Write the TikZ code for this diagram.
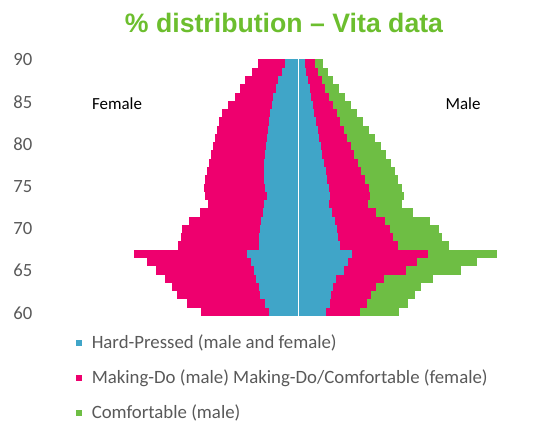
\documentclass[tikz,border=0pt]{standalone}
\usepackage{fontspec}
\setmainfont{Carlito}
\newfontfamily\titlefont{Liberation Sans}
\usetikzlibrary{calc}
\definecolor{hpblue}{RGB}{64,165,200}
\definecolor{mdpink}{RGB}{238,0,110}
\definecolor{cfgreen}{RGB}{110,190,68}
\definecolor{titlegreen}{RGB}{108,190,46}
\definecolor{axisgray}{RGB}{89,89,89}

\begin{document}
\begin{tikzpicture}[x=0.75pt,y=-0.75pt,
	tick/.style={anchor=east,text=axisgray,inner sep=0pt,font=\fontsize{14}{16}\selectfont},
	legtext/.style={anchor=base west,text=axisgray,inner sep=0pt,font=\fontsize{14.1}{17}\selectfont},
	legkey/.style={minimum size=4.5pt,inner sep=0pt},
	sexlabel/.style={anchor=base,inner sep=0pt,font=\fontsize{12.7}{15}\selectfont}]
\useasboundingbox (0,0) rectangle (559,431);
\node[anchor=base,inner sep=0pt,text=titlegreen,font=\titlefont\bfseries\fontsize{20}{24}\selectfont] (title) at (284,32.3) {\% distribution \textendash{} Vita data};
% one bar per age: left pink, blue, right pink, green
\foreach \age/\pl/\bl/\br/\pr/\gr in {90/258/285/305/315/323, 89/252/282/306/318/328,
	88/245/278/308/322/333, 87/240/276/310/325/339, 86/235/273/311/329/345,
	85/228/272/313/333/351, 84/222/270/314/337/357, 83/219/269/316/340/363,
	82/217/268/318/344/369, 81/215/267/319/347/375, 80/213/266/321/351/381,
	79/211/265/322/354/386, 78/209/264/324/358/391, 77/207/264/326/361/395,
	76/205/264/327/365/398, 75/204/265/329/369/402, 74/205/267/330/370/404,
	73/208/264/329/368/402, 72/200/263/332/376/413, 71/189/261/335/385/430,
	70/182/260/337/390/439, 69/181/259/338/393/442, 68/178/259/340/398/449,
	67/134/247/352/428/497, 66/147/251/348/417/477, 65/156/254/344/406/461,
	64/165/256/336/384/433, 63/172/259/333/376/421, 62/177/260/331/371/415,
	61/187/265/330/367/408, 60/201/269/326/360/399} {
	\pgfmathsetmacro\yt{59.5+(90-\age)*8.27}
	\fill[mdpink] (\pl,\yt) rectangle ($ (\bl,\yt) + (0,8.4) $);
	\fill[hpblue] (\bl,\yt) rectangle ($ (\br,\yt) + (0,8.4) $);
	\fill[mdpink] (\br,\yt) rectangle ($ (\pr,\yt) + (0,8.4) $);
	\fill[cfgreen] (\pr,\yt) rectangle ($ (\gr,\yt) + (0,8.4) $);
}
\draw[white,line width=0.6pt] (298.7,59.5) -- (298.7,316);
\foreach \age in {60,65,...,90} {
	\node[tick] (tick\age) at ($ (32.5,313) - (0,{(\age-60)*8.45}) $) {\age};
}
\node[sexlabel] (female) at (117,109.3) {Female};
\node[sexlabel] (male) at (463,110) {Male};
% legend
\node[legkey,fill=hpblue] (keyhp) at (79,343.3) {};
\node[legkey,fill=mdpink] (keymd) at (79,378.3) {};
\node[legkey,fill=cfgreen] (keycf) at (79,413.3) {};
\node[legtext] (leghp) at (91.5,348.5) {Hard-Pressed (male and female)};
\node[legtext] (legmd) at (91.5,383.5) {Making-Do (male) Making-Do/Comfortable (female)};
\node[legtext] (legcf) at (91.5,418.5) {Comfortable (male)};
\end{tikzpicture}
\end{document}
